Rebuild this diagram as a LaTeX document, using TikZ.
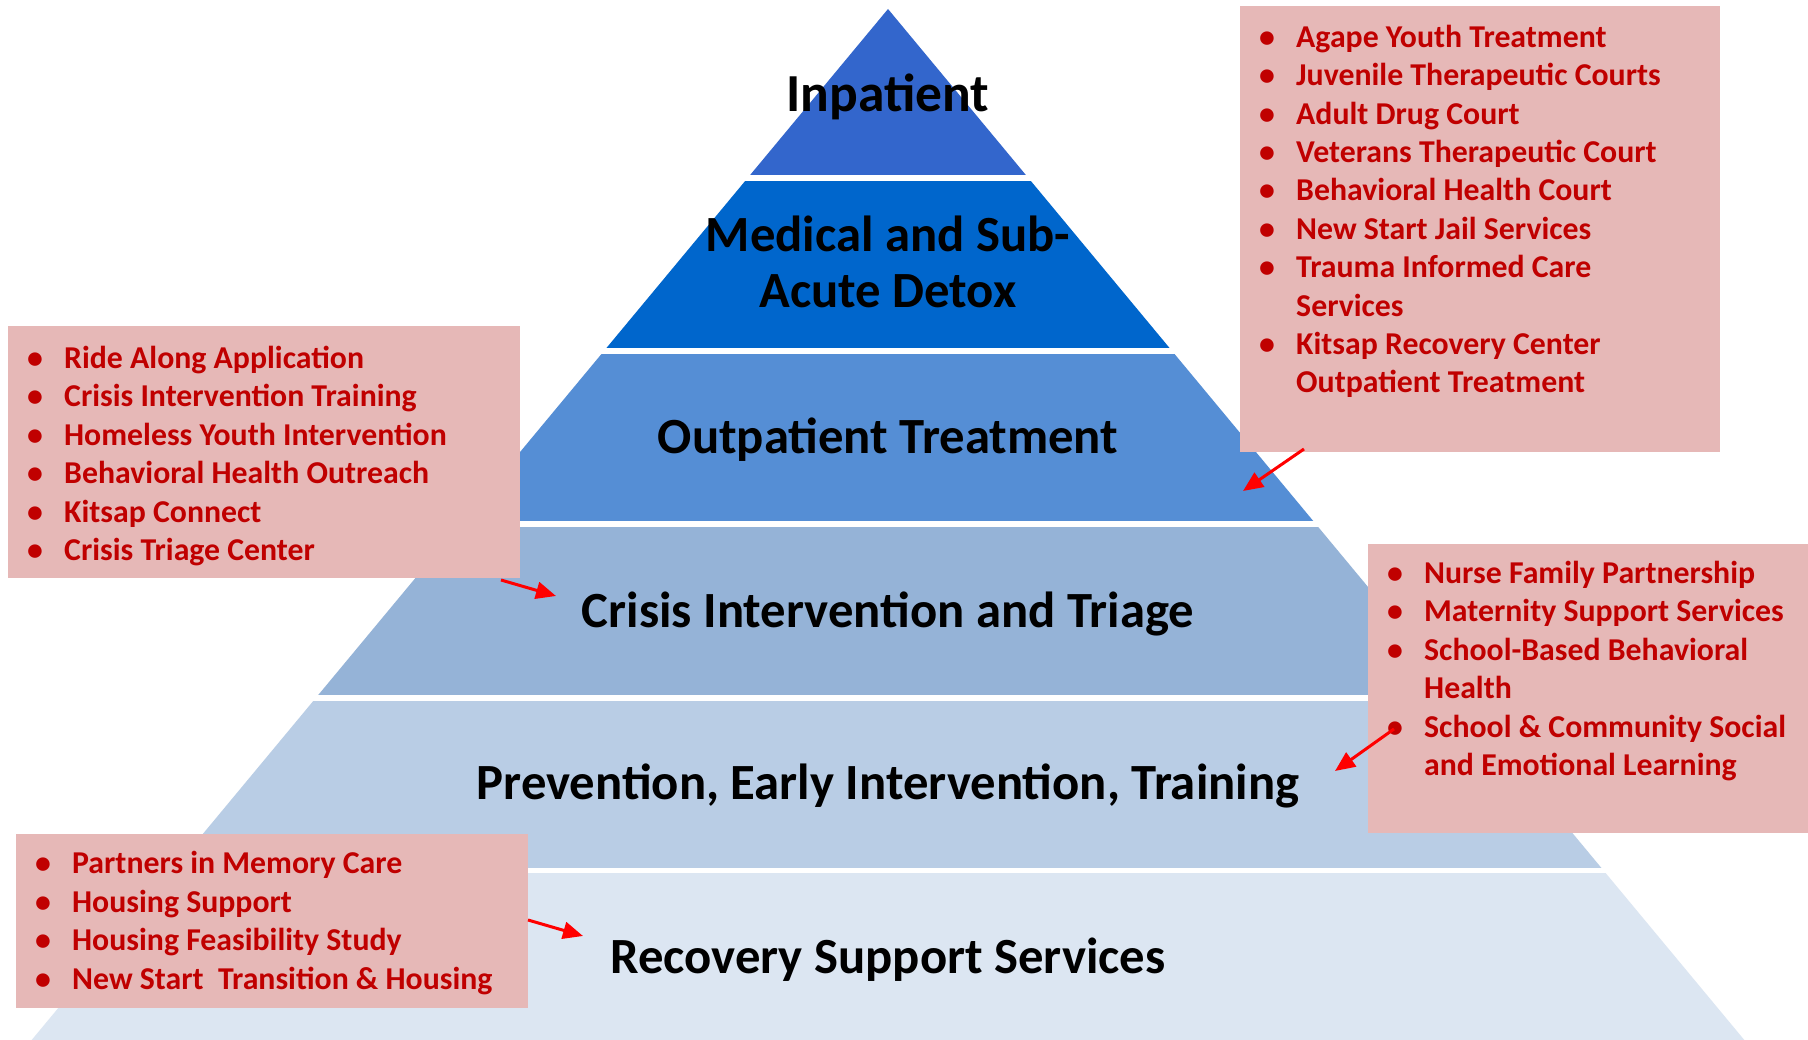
\documentclass[tikz,border=0pt]{standalone}
\usepackage{fontspec}
\setmainfont{Carlito}
\usetikzlibrary{arrows.meta}
\definecolor{bandA}{RGB}{51,102,204}
\definecolor{bandB}{RGB}{0,102,204}
\definecolor{bandC}{RGB}{85,142,213}
\definecolor{bandD}{RGB}{149,179,215}
\definecolor{bandE}{RGB}{185,205,229}
\definecolor{bandF}{RGB}{220,230,242}
\definecolor{boxpink}{RGB}{230,184,183}
\definecolor{itemred}{RGB}{192,0,0}
\definecolor{arrowred}{RGB}{255,0,0}
\newcommand\itm[1]{\makebox[37pt][l]{\textbullet}#1}
\newcommand\cont[1]{\hspace*{37pt}#1}
\tikzset{
  lbl/.style={font=\fontsize{50.7}{56}\selectfont\bfseries, text=black, inner sep=0pt, align=center, anchor=base},
  pinkbox/.style={fill=boxpink, draw=none, inner sep=0pt, anchor=north west},
  lst/.style={font=\fontsize{31.8}{38.4}\selectfont\bfseries, text=itemred, inner sep=0pt, align=left, anchor=base west},
  redarrow/.style={draw=arrowred, line width=3pt, -{Triangle[length=20pt,width=17pt]}}
}
\begin{document}
\begin{tikzpicture}[x=1pt,y=-1pt]
\useasboundingbox[fill=white] (0,0) rectangle (1808,1040);
% pyramid
\begin{scope}
\clip (888,9) -- (31.7,1040) -- (1744.3,1040) -- cycle;
\fill[bandA] (0,0) rectangle (1808,175.5);
\fill[bandB] (0,181.5) rectangle (1808,348);
\fill[bandC] (0,354) rectangle (1808,521);
\fill[bandD] (0,527) rectangle (1808,694.5);
\fill[bandE] (0,700.5) rectangle (1808,867.5);
\fill[bandF] (0,873) rectangle (1808,1041);
\end{scope}
% band labels
\node[lbl, font=\fontsize{53.5}{56}\selectfont\bfseries] (inpat) at (888,112) {Inpatient};
\node[lbl] (detox) at (888,308) {Medical and Sub-\\Acute Detox};
\node[lbl] (outpat) at (888,454) {Outpatient Treatment};
\node[lbl] (crisis) at (888,627) {Crisis Intervention and Triage};
\node[lbl] (prev) at (888,799) {Prevention, Early Intervention, Training};
\node[lbl] (recov) at (888,973) {Recovery Support Services};
% boxes
\node[pinkbox, minimum width=480pt, minimum height=446pt] (trbox) at (1240,6) {};
\node[pinkbox, minimum width=512pt, minimum height=252pt] (lbox) at (8,326) {};
\node[pinkbox, minimum width=440pt, minimum height=289pt] (rbox) at (1368,544) {};
\node[pinkbox, minimum width=512pt, minimum height=174pt] (bbox) at (16,834) {};
% lists (anchored at the baseline of the last line)
\node[lst] (trlist) at (1259,393) {\itm{Agape Youth Treatment}\\
\itm{Juvenile Therapeutic Courts}\\
\itm{Adult Drug Court}\\
\itm{Veterans Therapeutic Court}\\
\itm{Behavioral Health Court}\\
\itm{New Start Jail Services}\\
\itm{Trauma Informed Care}\\
\cont{Services}\\
\itm{Kitsap Recovery Center}\\
\cont{Outpatient Treatment}};
\node[lst] (llist) at (27,560.5) {\itm{Ride Along Application}\\
\itm{Crisis Intervention Training}\\
\itm{Homeless Youth Intervention}\\
\itm{Behavioral Health Outreach}\\
\itm{Kitsap Connect}\\
\itm{Crisis Triage Center}};
\node[lst] (rlist) at (1387,775.5) {\itm{Nurse Family Partnership}\\
\itm{Maternity Support Services}\\
\itm{School-Based Behavioral}\\
\cont{Health}\\
\itm{School \& Community Social}\\
\cont{and Emotional Learning}};
\node[lst] (blist) at (35,989) {\itm{Partners in Memory Care}\\
\itm{Housing Support}\\
\itm{Housing Feasibility Study}\\
\itm{New Start\ \ Transition \& Housing}};
% arrows
\coordinate (a1s) at (1304,449); \coordinate (a1e) at (1243,491);
\coordinate (a2s) at (501,580);  \coordinate (a2e) at (556,596);
\coordinate (a3s) at (1394,729); \coordinate (a3e) at (1335,771);
\coordinate (a4s) at (528,920);  \coordinate (a4e) at (583,936);
\draw[redarrow] (a1s) -- (a1e);
\draw[redarrow] (a2s) -- (a2e);
\draw[redarrow] (a3s) -- (a3e);
\draw[redarrow] (a4s) -- (a4e);
\end{tikzpicture}
\end{document}
